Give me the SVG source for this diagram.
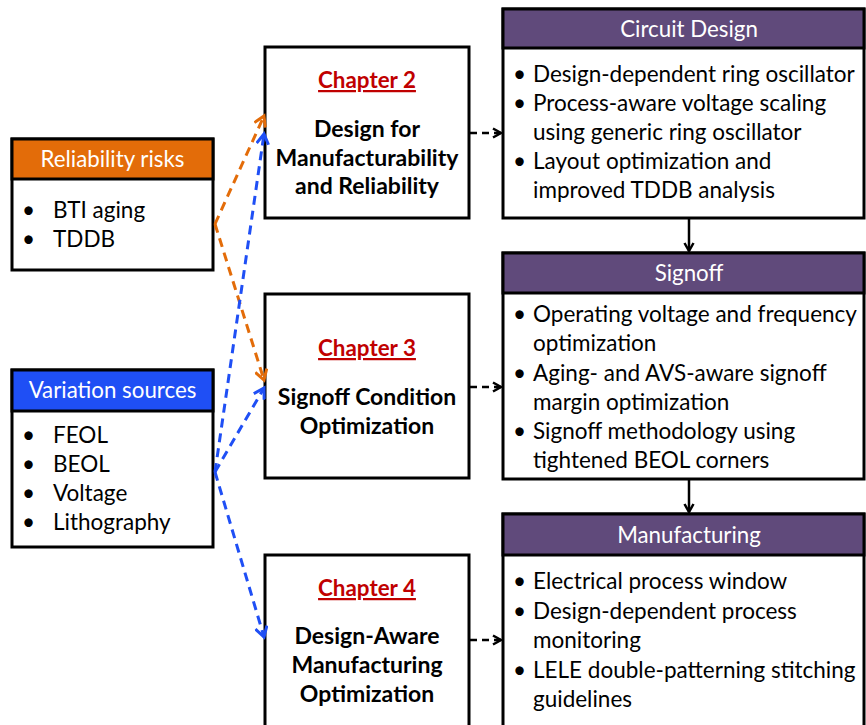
<svg xmlns="http://www.w3.org/2000/svg" width="866" height="725" viewBox="0 0 866 725">
<style>
.box{fill:#fff;stroke:#000;stroke-width:3}
.hdr{stroke:#000;stroke-width:3}
.t{font-family:Lato,"Open Sans",sans-serif;font-size:22.5px;fill:#000}
.h{font-family:Lato,"Open Sans",sans-serif;font-size:22.3px;fill:#fff;text-anchor:middle}
.b{font-family:Lato,"Open Sans",sans-serif;font-size:23px;font-weight:bold;fill:#000;text-anchor:middle}
.ch{font-family:Lato,"Open Sans",sans-serif;font-size:22.4px;font-weight:bold;fill:#C00000;text-anchor:middle;text-decoration:underline}
.dk{fill:none;stroke:#000;stroke-width:2.5;stroke-dasharray:7,5}
.sk{fill:none;stroke:#000;stroke-width:2.5}
.do{fill:none;stroke:#E36C09;stroke-width:3;stroke-dasharray:9,6}
.db{fill:none;stroke:#1F4FF5;stroke-width:3;stroke-dasharray:9,6}
</style>
<defs>
<marker id="ak" markerWidth="12" markerHeight="12" refX="9" refY="6" orient="auto" markerUnits="userSpaceOnUse"><path d="M1,1.5 L9,6 L1,10.5" fill="none" stroke="#000" stroke-width="2.5"/></marker>
<marker id="ao" markerWidth="14" markerHeight="14" refX="11" refY="7" orient="auto" markerUnits="userSpaceOnUse"><path d="M1,1 L11,7 L1,13" fill="none" stroke="#E36C09" stroke-width="3"/></marker>
<marker id="ab" markerWidth="14" markerHeight="14" refX="11" refY="7" orient="auto" markerUnits="userSpaceOnUse"><path d="M1,1 L11,7 L1,13" fill="none" stroke="#1F4FF5" stroke-width="3"/></marker>
</defs>

<g id="reliability">
<rect class="box" x="12" y="139" width="201" height="131"/>
<rect class="hdr" x="12" y="139" width="201" height="40" fill="#E36C09"/>
<text class="h" x="112.5" y="167">Reliability risks</text>
<text class="t" x="22" y="218">•</text><text class="t" x="53" y="218">BTI aging</text>
<text class="t" x="22" y="247">•</text><text class="t" x="53" y="247">TDDB</text>
</g>

<g id="variation">
<rect class="box" x="12" y="370" width="201" height="177"/>
<rect class="hdr" x="12" y="370" width="201" height="41" fill="#1F4FF5"/>
<text class="h" x="112.5" y="398">Variation sources</text>
<text class="t" x="22" y="443">•</text><text class="t" x="53" y="443">FEOL</text>
<text class="t" x="22" y="472">•</text><text class="t" x="53" y="472">BEOL</text>
<text class="t" x="22" y="501">•</text><text class="t" x="53" y="501">Voltage</text>
<text class="t" x="22" y="530">•</text><text class="t" x="53" y="530">Lithography</text>
</g>

<g id="chapter2">
<rect class="box" x="265" y="47" width="204" height="171"/>
<text class="ch" x="367" y="88">Chapter 2</text>
<text class="b" x="367" y="137">Design for</text>
<text class="b" x="367" y="166">Manufacturability</text>
<text class="b" x="367" y="194">and Reliability</text>
</g>

<g id="chapter3">
<rect class="box" x="265" y="294" width="204" height="184"/>
<text class="ch" x="367" y="356">Chapter 3</text>
<text class="b" x="367" y="405">Signoff Condition</text>
<text class="b" x="367" y="434">Optimization</text>
</g>

<g id="chapter4">
<rect class="box" x="265" y="555" width="204" height="185"/>
<text class="ch" x="367" y="596">Chapter 4</text>
<text class="b" x="367" y="644">Design-Aware</text>
<text class="b" x="367" y="673">Manufacturing</text>
<text class="b" x="367" y="702">Optimization</text>
</g>

<g id="circuit">
<rect class="box" x="503" y="9" width="361" height="209"/>
<rect class="hdr" x="503" y="9" width="361" height="39" fill="#604A7B"/>
<text class="h" x="689" y="37">Circuit Design</text>
<text class="t" x="513" y="82">•</text><text class="t" x="533" y="82">Design-dependent ring oscillator</text>
<text class="t" x="513" y="111">•</text><text class="t" x="533" y="111">Process-aware voltage scaling</text>
<text class="t" x="533" y="140">using generic ring oscillator</text>
<text class="t" x="513" y="169">•</text><text class="t" x="533" y="169">Layout optimization and</text>
<text class="t" x="533" y="198">improved TDDB analysis</text>
</g>

<g id="signoff">
<rect class="box" x="503" y="253" width="361" height="226"/>
<rect class="hdr" x="503" y="253" width="361" height="40" fill="#604A7B"/>
<text class="h" x="689" y="281">Signoff</text>
<text class="t" x="513" y="322">•</text><text class="t" x="533" y="322">Operating voltage and frequency</text>
<text class="t" x="533" y="351">optimization</text>
<text class="t" x="513" y="381">•</text><text class="t" x="533" y="381">Aging- and AVS-aware signoff</text>
<text class="t" x="533" y="410">margin optimization</text>
<text class="t" x="513" y="439">•</text><text class="t" x="533" y="439">Signoff methodology using</text>
<text class="t" x="533" y="468">tightened BEOL corners</text>
</g>

<g id="manufacturing">
<rect class="box" x="503" y="514" width="361" height="226"/>
<rect class="hdr" x="503" y="514" width="361" height="41" fill="#604A7B"/>
<text class="h" x="689" y="543">Manufacturing</text>
<text class="t" x="513" y="589">•</text><text class="t" x="533" y="589">Electrical process window</text>
<text class="t" x="513" y="619">•</text><text class="t" x="533" y="619">Design-dependent process</text>
<text class="t" x="533" y="648">monitoring</text>
<text class="t" x="513" y="678">•</text><text class="t" x="533" y="678">LELE double-patterning stitching</text>
<text class="t" x="533" y="707">guidelines</text>
</g>

<g id="connectors">
<path class="dk" d="M470,133 L501,133" marker-end="url(#ak)"/>
<path class="dk" d="M470,387 L501,387" marker-end="url(#ak)"/>
<path class="dk" d="M470,640 L501,640" marker-end="url(#ak)"/>
<path class="sk" d="M689,219 L689,251" marker-end="url(#ak)"/>
<path class="sk" d="M689,480 L689,512" marker-end="url(#ak)"/>
<path class="do" d="M215,224 L264,116" marker-end="url(#ao)"/>
<path class="do" d="M215,224 L264,380" marker-end="url(#ao)"/>
<path class="db" d="M215,472 L264,134" marker-end="url(#ab)"/>
<path class="db" d="M215,472 L264,388" marker-end="url(#ab)"/>
<path class="db" d="M215,472 L264,637" marker-end="url(#ab)"/>
</g>
</svg>
